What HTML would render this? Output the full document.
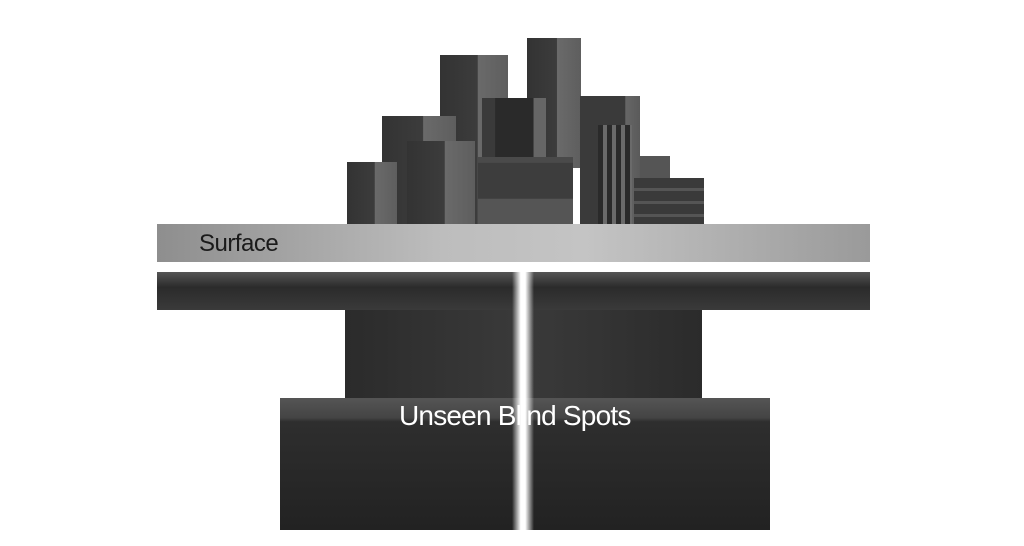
<!DOCTYPE html>
<html><head><style>
body{margin:0;width:1024px;height:546px;background:#fff;position:relative;overflow:hidden;font-family:"Liberation Sans",sans-serif}
div{position:absolute}
.b{background:linear-gradient(90deg,#333 0,#3c3c3c 55%,#6a6a6a 56%,#5e5e5e 100%)}
</style></head><body>
<div class="b" style="left:527px;top:38px;width:54px;height:130px"></div>
<div class="b" style="left:440px;top:55px;width:68px;height:170px"></div>
<div class="b" style="left:580px;top:96px;width:60px;height:130px;background:linear-gradient(90deg,#3a3a3a 0,#3a3a3a 75%,#666 76%,#5a5a5a)"></div>
<div class="b" style="left:640px;top:156px;width:30px;height:70px;background:#555"></div>
<div class="b" style="left:482px;top:98px;width:64px;height:62px;background:linear-gradient(90deg,#3a3a3a 0,#3a3a3a 20%,#2a2a2a 21%,#2a2a2a 80%,#666 81%)"></div>
<div class="b" style="left:382px;top:116px;width:74px;height:110px"></div>
<div class="b" style="left:347px;top:162px;width:50px;height:64px"></div>
<div class="b" style="left:407px;top:141px;width:68px;height:85px"></div>
<div class="b" style="left:478px;top:157px;width:95px;height:69px;background:linear-gradient(180deg,#4a4a4a 0,#4a4a4a 8%,#3d3d3d 9%,#3d3d3d 60%,#555 61%)"></div>
<div style="left:598px;top:125px;width:34px;height:100px;background:repeating-linear-gradient(90deg,#2a2a2a 0,#2a2a2a 5px,#6a6a6a 5px,#6a6a6a 9px)"></div>
<div class="b" style="left:634px;top:178px;width:70px;height:48px;background:repeating-linear-gradient(180deg,#3a3a3a 0,#3a3a3a 10px,#555 10px,#555 13px)"></div>
<div style="left:157px;top:224px;width:713px;height:38px;background:linear-gradient(90deg,#8e8e8e,#bdbdbd 40%,#c4c4c4 60%,#9a9a9a)"></div>
<div style="left:199px;top:230px;font-size:24px;color:#1a1a1a;letter-spacing:-0.5px">Surface</div>
<div style="left:157px;top:272px;width:713px;height:38px;background:linear-gradient(180deg,#555,#2b2b2b 40%,#3a3a3a)"></div>
<div style="left:345px;top:310px;width:357px;height:95px;background:linear-gradient(90deg,#2b2b2b,#3a3a3a 50%,#2b2b2b)"></div>
<div style="left:280px;top:398px;width:490px;height:132px;background:linear-gradient(180deg,#555 0,#444 15%,#2e2e2e 18%,#222)"></div>
<div style="left:512px;top:262px;width:22px;height:268px;background:linear-gradient(90deg,rgba(255,255,255,0),#fff 40%,#fff 60%,rgba(255,255,255,0))"></div>
<div style="left:399px;top:400px;font-size:28px;color:#fff;letter-spacing:-0.8px">Unseen Blind Spots</div>
</body></html>
